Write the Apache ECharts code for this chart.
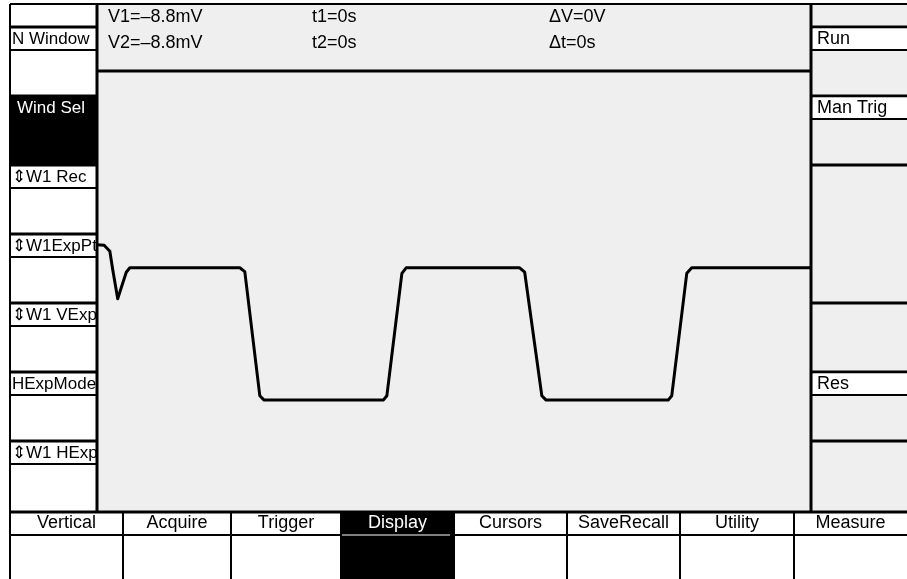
<!DOCTYPE html>
<html><head><meta charset="utf-8">
<script src="https://cdn.jsdelivr.net/npm/echarts@6/dist/echarts.min.js"></script>
<style>html,body{margin:0;padding:0;background:#fff}#c{width:907px;height:579px}</style>
</head><body><div id="c"></div>
<script>
// ---- data (time and voltage in screen divisions) ----
const timeDiv = [0, 0.10, 0.18, 0.22, 0.29, 0.34, 0.41, 0.46, 2.00, 2.07, 2.28, 2.34, 4.01, 4.06, 4.27, 4.33, 5.92, 5.99, 6.23, 6.29, 8.00, 8.05, 8.26, 8.33, 10];
const voltDiv = [0.85, 0.84, 0.73, 0.40, -0.13, 0.07, 0.35, 0.43, 0.43, 0.36, -1.89, -1.97, -1.97, -1.89, 0.33, 0.43, 0.43, 0.35, -1.89, -1.97, -1.97, -1.89, 0.33, 0.43, 0.43];
const readoutCol1 = ['V1=–8.8mV', 'V2=–8.8mV'];
const readoutCol2 = ['t1=0s', 't2=0s'];
const readoutCol3 = ['ΔV=0V', 'Δt=0s'];
const leftMenu = ['N Window', 'Wind Sel', '⇕W1 Rec', '⇕W1ExpPt', '⇕W1 VExp', 'HExpMode', '⇕W1 HExp'];
const leftSelected = 'Wind Sel';
const rightMenu = ['Run', 'Man Trig', '', null, '', 'Res', ''];
const bottomMenu = ['Vertical', 'Acquire', 'Trigger', 'Display', 'Cursors', 'SaveRecall', 'Utility', 'Measure'];
const bottomSelected = 'Display';

// ---- layout ----
const FONT = '18px "Liberation Sans", Arial, sans-serif';
const LFONT = '17px "Liberation Sans", Arial, sans-serif';
const STIP = '#efefef';
const L0 = 10, L1 = 97, R0 = 811, R1 = 907, T0 = 4, TB = 71, B0 = 512, B1 = 579;
const SLOT0 = 27, SLOTH = 69, LABH = 23;
const colEdges = [10, 123, 231, 341, 454, 567, 680, 794, 907];
const g = [];
const rect = (x, y, w, h, fill) => g.push({type: 'rect', silent: true, shape: {x, y, width: w, height: h}, style: {fill}});
const line = (x1, y1, x2, y2, w, c) => g.push({type: 'line', silent: true, shape: {x1, y1, x2, y2}, style: {stroke: c || '#000', lineWidth: w}});
const text = (t, x, y, opts) => g.push(Object.assign({type: 'text', silent: true, style: Object.assign({text: t, x, y, font: FONT, fill: '#000', align: 'left', verticalAlign: 'middle'}, opts || {})}));

// left menu
leftMenu.forEach((lab, i) => {
  const y = SLOT0 + i * SLOTH;
  const sel = lab === leftSelected;
  if (sel) rect(L0, y, L1 - L0, SLOTH, '#000');
  line(L0, y, L1, y, 3);
  if (!sel) line(L0, y + LABH, L1, y + LABH, 2);
  text(lab, sel ? 17 : 12, y + LABH / 2 + 1, {fill: sel ? '#fff' : '#000', font: LFONT});
});
line(L0, T0, L0, B0, 2);

// stippled background (plot, readout, right panel) - also clips left labels
rect(L1, T0, R1 - L1, B0 - T0, STIP);

// right menu
rightMenu.forEach((lab, i) => {
  if (lab === null) return;
  const y = SLOT0 + i * SLOTH;
  line(R0, y, R1, y, 3);
  if (lab) {
    rect(R0 + 2, y + 1.5, R1 - R0 - 2, LABH - 2, '#fff');
    line(R0, y + LABH, R1, y + LABH, 2);
    text(lab, 817, y + LABH / 2 + 1);
  }
});

// top readout
line(L0, T0, R1, T0, 2);
line(L1, TB, R0, TB, 3);
[[readoutCol1, 108], [readoutCol2, 312], [readoutCol3, 549]].forEach(([arr, x]) => {
  arr.forEach((t, j) => text(t, x, 17 + j * 26));
});

// vertical borders
line(L1, T0, L1, B0, 3);
line(R0, T0, R0, B0, 3);

// bottom menu
rect(L0, B0, R1 - L0, B1 - B0, '#fff');
bottomMenu.forEach((lab, i) => {
  const x = colEdges[i], w = colEdges[i + 1] - colEdges[i];
  const sel = lab === bottomSelected;
  if (sel) {
    rect(x, B0, w, B1 - B0, '#000');
    line(x + 1, 535, x + w - 4, 535, 1, '#fff');
  } else {
    line(x, 535, x + w, 535, 2);
  }
  line(x, B0, x, B1, 2);
  text(lab, x + w / 2, 523, {align: 'center', fill: sel ? '#fff' : '#000'});
});
line(L0, B0, R1, B0, 3);

const chart = echarts.init(document.getElementById('c'), null, {renderer: 'canvas'});
chart.setOption({
  backgroundColor: '#fff',
  animation: false,
  graphic: {elements: g},
  grid: {left: L1, top: TB, width: R0 - L1, height: B0 - TB, show: false},
  xAxis: {type: 'value', min: 0, max: 10, show: false},
  yAxis: {type: 'value', min: -4, max: 4, show: false},
  series: [{
    type: 'line', z: 10, symbol: 'none', smooth: false,
    lineStyle: {color: '#000', width: 3, join: 'round'},
    data: timeDiv.map((t, i) => [t, voltDiv[i]])
  }]
});
</script>
</body></html>
